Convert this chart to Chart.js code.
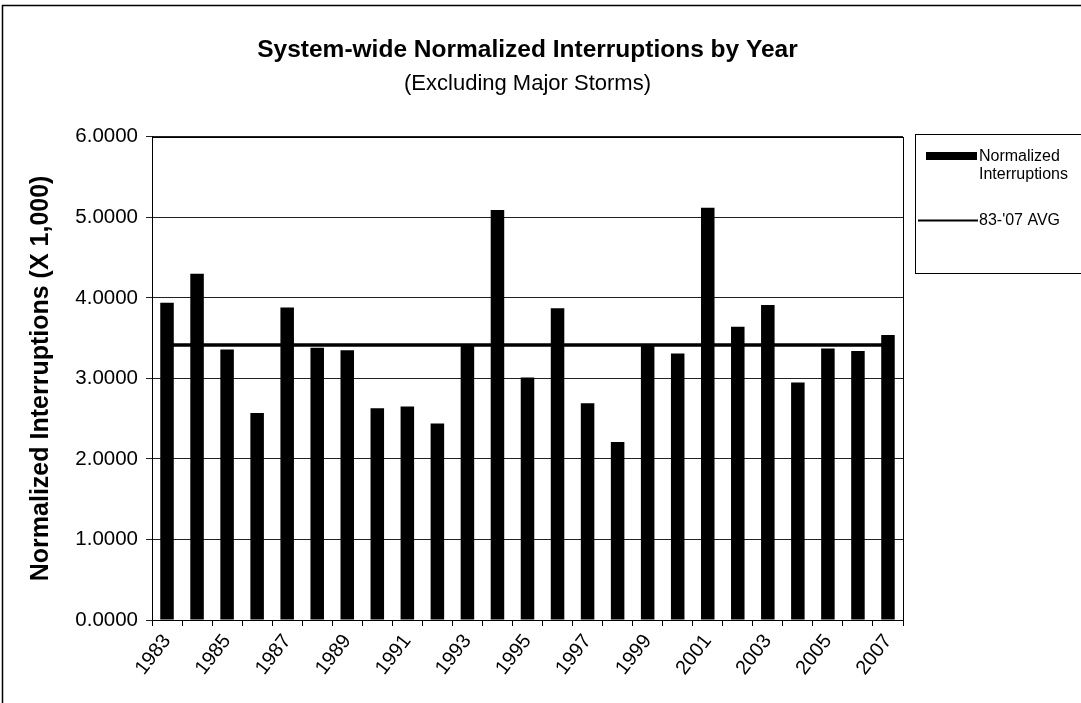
<!DOCTYPE html>
<html>
<head>
<meta charset="utf-8">
<title>System-wide Normalized Interruptions by Year</title>
<script src="https://cdn.jsdelivr.net/npm/chart.js@4/dist/chart.umd.min.js"></script>
<style>
  html, body { margin: 0; padding: 0; background: #fff; }
  #wrap { width: 1081px; height: 703px; }
</style>
</head>
<body>
<div id="wrap"><canvas id="interruptionsChart" width="1081" height="703"></canvas></div>
<script>
// -------------------- DATA --------------------
const years = [
  "1983", "1984", "1985", "1986", "1987", "1988", "1989", "1990", "1991",
  "1992", "1993", "1994", "1995", "1996", "1997", "1998", "1999", "2000",
  "2001", "2002", "2003", "2004", "2005", "2006", "2007"
];

const normalizedInterruptions = [
  3.94, 4.30, 3.36, 2.57, 3.88, 3.38, 3.35, 2.63, 2.65,
  2.44, 3.41, 5.09, 3.01, 3.87, 2.69, 2.21, 3.42, 3.31,
  5.12, 3.64, 3.91, 2.95, 3.37, 3.34, 3.54
];

const averageLine = [
  3.415, 3.415, 3.415, 3.415, 3.415, 3.415, 3.415, 3.415, 3.415,
  3.415, 3.415, 3.415, 3.415, 3.415, 3.415, 3.415, 3.415, 3.415,
  3.415, 3.415, 3.415, 3.415, 3.415, 3.415, 3.415
];

const seriesLabels = ["Normalized Interruptions", "83-'07 AVG"];
const yTicks = [0, 1, 2, 3, 4, 5, 6];

const FONT = "'Liberation Sans', Arial, Helvetica, sans-serif";

// -------------------- FRAME + LEGEND --------------------
const framePlugin = {
  id: "framePlugin",
  afterDraw(chart) {
    const ctx = chart.ctx;
    const area = chart.chartArea;
    ctx.save();

    // outer chart frame
    ctx.strokeStyle = "#000";
    ctx.lineWidth = 1.5;
    ctx.beginPath();
    ctx.moveTo(2.5, 703);
    ctx.lineTo(2.5, 5.5);
    ctx.lineTo(1081, 5.5);
    ctx.stroke();

    // plot area border
    ctx.lineWidth = 1;
    ctx.strokeRect(Math.round(area.left) + 0.5, Math.round(area.top) + 0.5,
      Math.round(area.right - area.left), Math.round(area.bottom - area.top));

    // legend box
    const lx = 915.5, ly = 134.5;
    ctx.strokeRect(lx, ly, 200, 139);

    ctx.font = "16px " + FONT;
    ctx.fillStyle = "#000";
    ctx.textBaseline = "middle";
    ctx.textAlign = "left";

    // bar entry
    ctx.fillRect(926, 152, 51, 8);
    const words = seriesLabels[0].split(" ");
    ctx.fillText(words[0], 979, 157);
    ctx.fillText(words.slice(1).join(" "), 979, 175);

    // line entry
    ctx.lineWidth = 2;
    ctx.beginPath();
    ctx.moveTo(918, 220.5);
    ctx.lineTo(978, 220.5);
    ctx.stroke();
    ctx.fillText(seriesLabels[1], 979, 221);

    ctx.restore();
  }
};

// -------------------- CHART --------------------
window.addEventListener("load", () => {
  const canvas = document.getElementById("interruptionsChart");

  new Chart(canvas, {
    data: {
      labels: years,
      datasets: [
        {
          type: "line",
          label: seriesLabels[1],
          data: averageLine,
          borderColor: "#000",
          borderWidth: 3.5,
          pointRadius: 0,
          fill: false,
          order: 0
        },
        {
          type: "bar",
          label: seriesLabels[0],
          data: normalizedInterruptions,
          backgroundColor: "#000",
          borderWidth: 0,
          barPercentage: 0.45,
          categoryPercentage: 1,
          order: 1
        }
      ]
    },
    options: {
      responsive: false,
      animation: false,
      devicePixelRatio: 1,
      layout: {
        padding: { top: 36, right: 178, bottom: 0, left: 26 }
      },
      plugins: {
        legend: { display: false },
        tooltip: { enabled: false },
        title: {
          display: true,
          text: "System-wide Normalized Interruptions by Year",
          color: "#000",
          fullSize: false,
          font: { family: FONT, size: 24.5, weight: "bold" },
          padding: { top: 0, bottom: 5 }
        },
        subtitle: {
          display: true,
          text: "(Excluding Major Storms)",
          color: "#000",
          fullSize: false,
          font: { family: FONT, size: 22, weight: "normal" },
          padding: { top: 0, bottom: 40 }
        }
      },
      scales: {
        x: {
          type: "category",
          offset: true,
          afterFit: (scale) => { scale.height = 83; },
          grid: {
            offset: true,
            drawOnChartArea: false,
            drawTicks: true,
            tickLength: 6,
            color: "#000"
          },
          border: { color: "#000", width: 1 },
          ticks: {
            autoSkip: false,
            minRotation: 52,
            maxRotation: 52,
            padding: 4,
            color: "#000",
            font: { family: FONT, size: 20 },
            callback: function (value, index) {
              return index % 2 === 0 ? this.getLabelForValue(value) : "";
            }
          }
        },
        y: {
          min: yTicks[0],
          max: yTicks[yTicks.length - 1],
          afterFit: (scale) => { scale.width = 126; },
          afterBuildTicks: (scale) => {
            scale.ticks = yTicks.map((v) => ({ value: v }));
          },
          grid: {
            color: "#222",
            lineWidth: 1,
            drawTicks: true,
            tickLength: 6
          },
          border: { color: "#000", width: 1 },
          ticks: {
            color: "#000",
            padding: 8,
            font: { family: FONT, size: 20.5 },
            callback: (value) => Number(value).toFixed(4)
          },
          title: {
            display: true,
            text: "Normalized Interruptions (X 1,000)",
            color: "#000",
            font: { family: FONT, size: 25, weight: "bold" },
            padding: { top: 0, bottom: 0 }
          }
        }
      }
    },
    plugins: [framePlugin]
  });
});
</script>
</body>
</html>
